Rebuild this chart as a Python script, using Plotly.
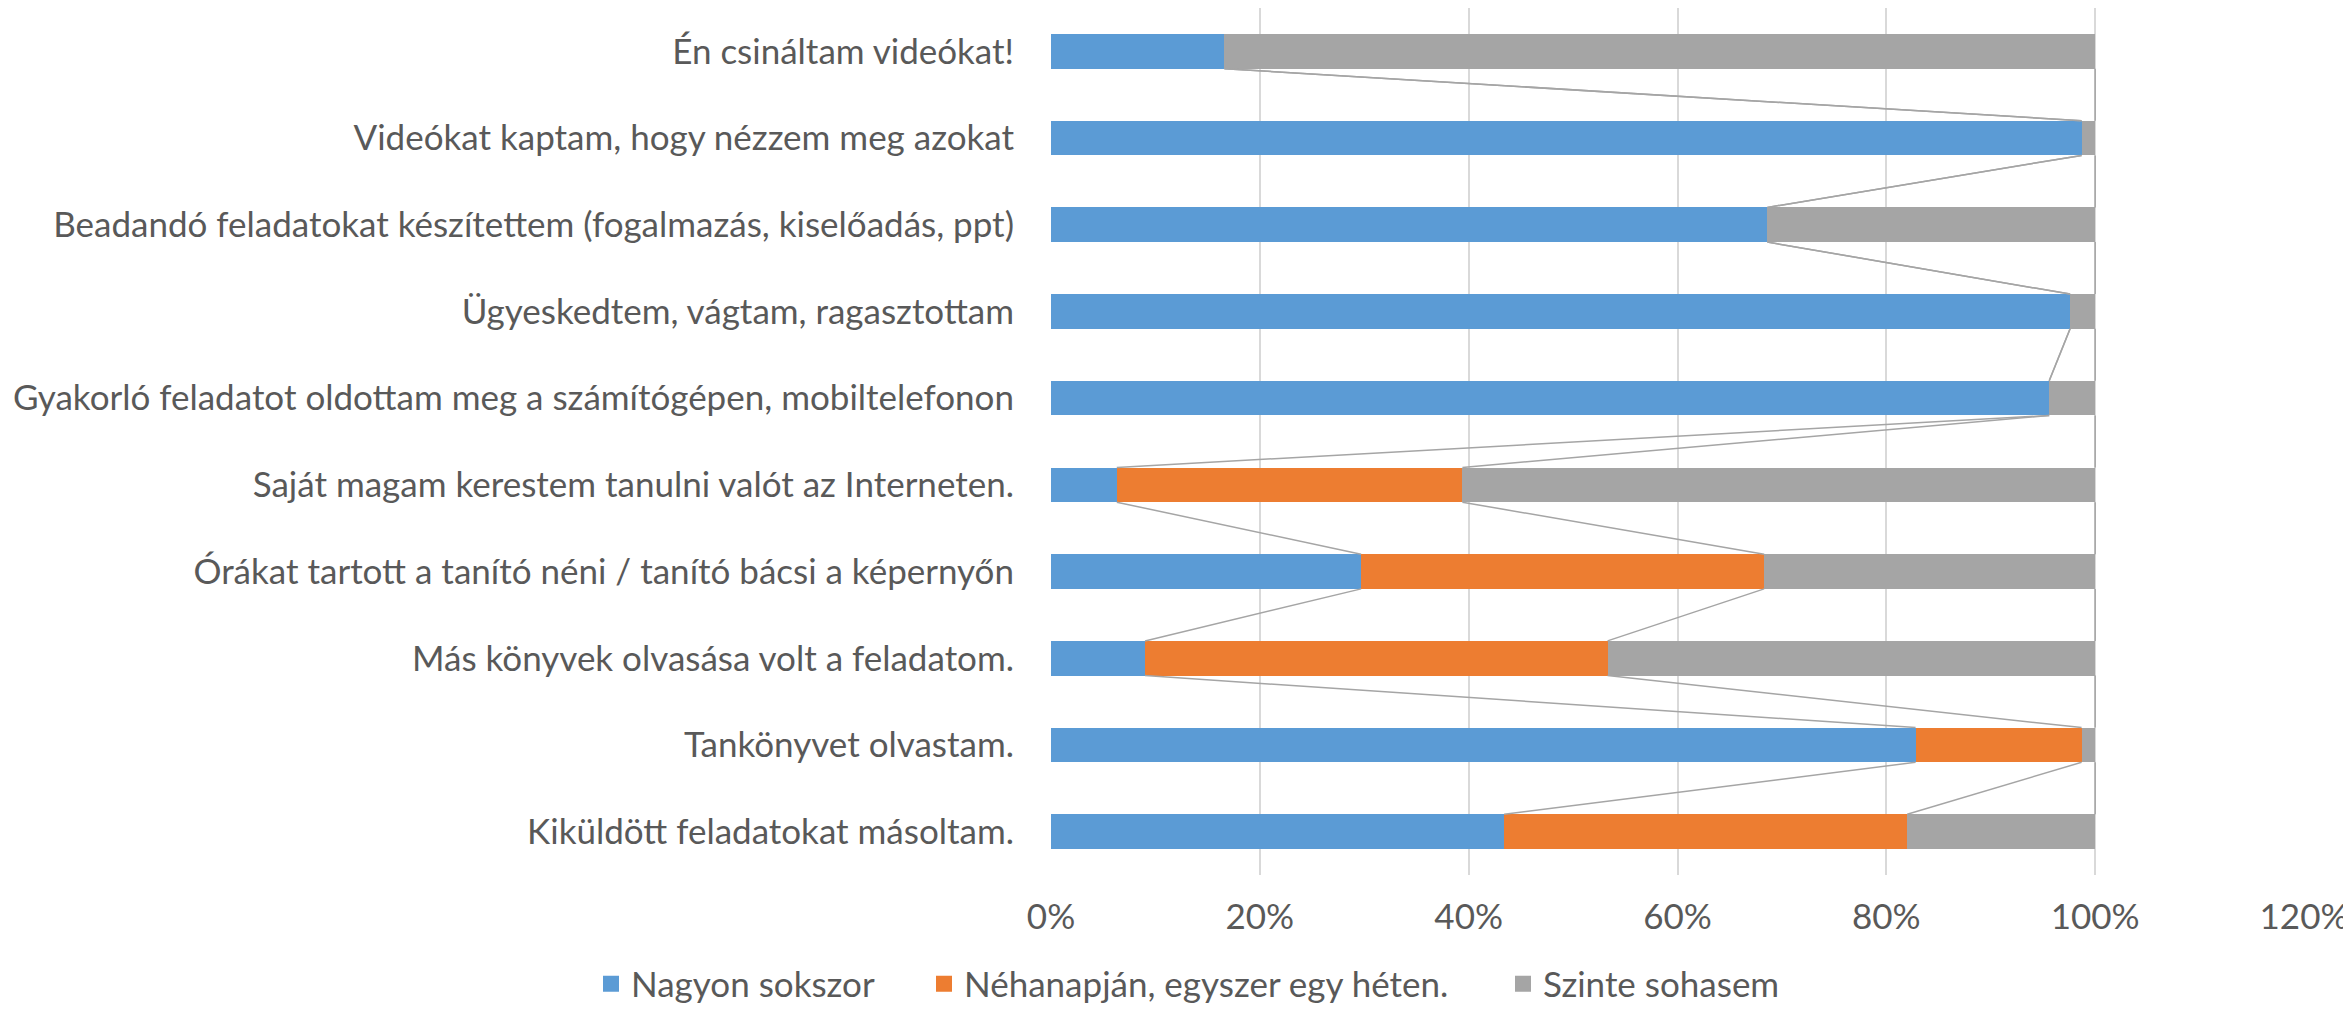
import plotly.graph_objects as go

categories = [
    "Kiküldött feladatokat másoltam.",
    "Tankönyvet olvastam.",
    "Más könyvek olvasása volt a feladatom.",
    "Órákat tartott a tanító néni / tanító bácsi a képernyőn",
    "Saját magam kerestem tanulni valót az Interneten.",
    "Gyakorló feladatot oldottam meg a számítógépen, mobiltelefonon",
    "Ügyeskedtem, vágtam, ragasztottam",
    "Beadandó feladatokat készítettem (fogalmazás, kiselőadás, ppt)",
    "Videókat kaptam, hogy nézzem meg azokat",
    "Én csináltam videókat!",
]
nagyon = [43.4, 82.8, 9.0, 29.7, 6.3, 95.6, 97.6, 68.6, 98.7, 16.6]
nehanapjan = [38.6, 15.9, 44.3, 38.6, 33.1, 0.0, 0.0, 0.0, 0.0, 0.0]
szinte = [round(100 - a - b, 1) for a, b in zip(nagyon, nehanapjan)]

series_names = ["Nagyon sokszor", "Néhanapján, egyszer egy héten.", "Szinte sohasem"]
series_vals = [nagyon, nehanapjan, szinte]
colors = ["#5B9BD5", "#ED7D31", "#A5A5A5"]

x_ticks = [0, 20, 40, 60, 80, 100, 120]
x_ticktext = [f"{t}%" for t in x_ticks]

FONT = "Lato"
TXT = "#595959"
FS = 35
BW = 0.4
W, H = 2343, 1002
ypos = list(range(len(categories)))
legend_refs = ["legend", "legend2", "legend3"]
legend_left_px = [583, 916, 1495]

fig = go.Figure()
for name, vals, col in zip(series_names, series_vals, colors):
    fig.add_trace(go.Bar(
        y=ypos, x=vals, name=name, orientation="h",
        marker=dict(color=col, line=dict(width=0)),
        width=BW, showlegend=False,
    ))

# series lines connecting bar ends
cum = [0.0] * len(categories)
for vals in series_vals:
    cum = [c + v for c, v in zip(cum, vals)]
    xs, ys = [], []
    for i in range(len(categories) - 1):
        xs += [cum[i + 1], cum[i], None]
        ys += [i + 1 - BW / 2, i + BW / 2, None]
    fig.add_trace(go.Scatter(
        x=xs, y=ys, mode="lines", line=dict(color="#A5A5A5", width=1.5),
        showlegend=False, hoverinfo="skip",
    ))

# legend entries
for name, col, lg in zip(series_names, colors, legend_refs):
    fig.add_trace(go.Scatter(
        x=[None], y=[None], mode="markers", name=name,
        marker=dict(symbol="square", size=16, color=col),
        legend=lg, showlegend=True,
    ))

layout_legends = {}
for lg, lx in zip(legend_refs, legend_left_px):
    layout_legends[lg] = dict(
        orientation="h", xref="container", yref="container",
        x=lx / W, y=26 / H, xanchor="left", yanchor="middle",
        font=dict(size=FS, color=TXT, family=FONT), bgcolor="rgba(0,0,0,0)",
    )

fig.update_layout(
    barmode="stack",
    width=W, height=H,
    margin=dict(l=1043, r=W - 2296, t=0, b=135),
    paper_bgcolor="white", plot_bgcolor="white",
    font=dict(family=FONT, color=TXT, size=FS),
    showlegend=True,
    xaxis=dict(
        range=[0, 120], tickvals=x_ticks, ticktext=x_ticktext,
        showgrid=True, gridcolor="#D9D9D9", gridwidth=1.5,
        zeroline=False, showline=False, ticks="",
        ticklabelstandoff=18, tickfont=dict(size=FS, color=TXT),
    ),
    yaxis=dict(
        range=[-0.5, len(categories) - 0.5],
        tickvals=ypos, ticktext=categories,
        showgrid=False, zeroline=False, showline=False, ticks="",
        ticklabelstandoff=36, tickfont=dict(size=FS, color=TXT),
    ),
    **layout_legends,
)

fig.write_html("out.html")
